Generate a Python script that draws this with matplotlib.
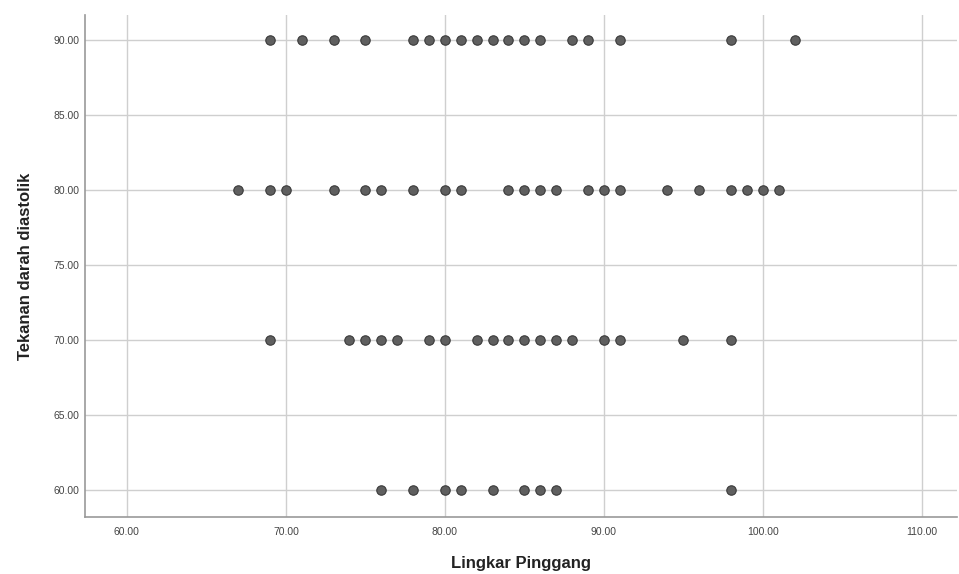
import matplotlib
matplotlib.use("Agg")
import matplotlib.pyplot as plt
from matplotlib.ticker import FormatStrFormatter

plt.rcParams['font.family'] = ['Liberation Sans', 'DejaVu Sans']

# Data: waist circumference (x) grouped by diastolic pressure (y)
x_90 = [69, 71, 73, 75, 78, 79, 80, 81, 82, 83, 84, 85, 86, 88, 89, 91, 98, 102]
x_80 = [67, 69, 70, 73, 75, 76, 78, 80, 81, 84, 85, 86, 87, 89, 90, 91, 94, 96, 98, 99, 100, 101]
x_70 = [69, 74, 75, 76, 77, 79, 80, 82, 83, 84, 85, 86, 87, 88, 90, 91, 95, 98]
x_60 = [76, 78, 80, 81, 83, 85, 86, 87, 98]
groups = [(90, x_90), (80, x_80), (70, x_70), (60, x_60)]

xticks = [60, 70, 80, 90, 100, 110]
yticks = [60, 65, 70, 75, 80, 85, 90]

xs, ys = [], []
for yv, xl in groups:
    xs.extend(xl)
    ys.extend([yv] * len(xl))

fig = plt.figure(figsize=(9.59, 5.74), dpi=100)
ax = fig.add_axes([0.0886, 0.0993, 0.909, 0.8746])

ax.scatter(xs, ys, s=46, color='#5f5f5f', edgecolors='#3a3a3a', linewidths=0.8, zorder=3)

ax.set_xlim(57.36, 112.2)
ax.set_ylim(58.2, 91.67)
ax.set_xticks(xticks)
ax.set_yticks(yticks)
ax.xaxis.set_major_formatter(FormatStrFormatter('%.2f'))
ax.yaxis.set_major_formatter(FormatStrFormatter('%.2f'))
ax.tick_params(axis='both', length=0, labelsize=7.5, colors='#444444')
ax.tick_params(axis='y', pad=4)
ax.tick_params(axis='x', pad=7)
ax.grid(True, color='#cfcfcf', linewidth=1.0, zorder=0)
ax.set_axisbelow(True)

for side in ['top', 'right']:
    ax.spines[side].set_visible(False)
for side in ['left', 'bottom']:
    ax.spines[side].set_color('#999999')
    ax.spines[side].set_linewidth(1.2)

ax.set_xlabel('Lingkar Pinggang', fontsize=12, fontweight='bold', color='#222222', labelpad=14)
ax.set_ylabel('Tekanan darah diastolik', fontsize=12, fontweight='bold', color='#222222', labelpad=15)

fig.savefig('out.png', dpi=100)
